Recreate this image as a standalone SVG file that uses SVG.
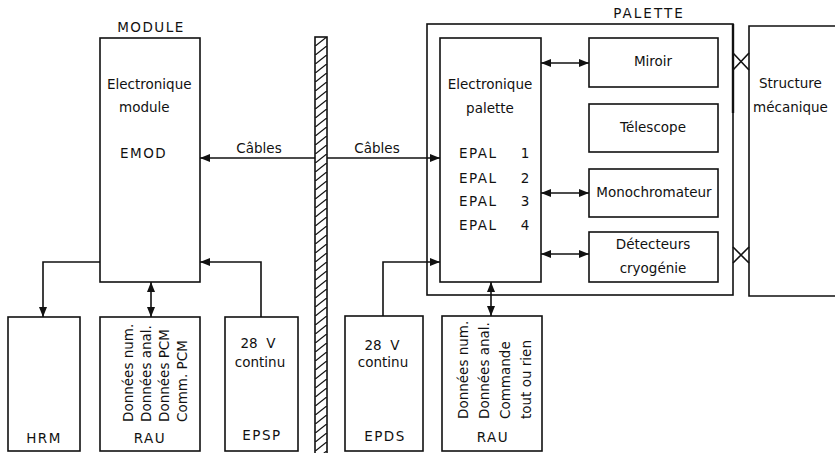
<svg xmlns="http://www.w3.org/2000/svg" width="835" height="453" viewBox="0 0 835 453">
<style>
.box{fill:#fff;stroke:#111;stroke-width:1.6}
.ln{fill:none;stroke:#111;stroke-width:1.6}
.t{font-family:"DejaVu Sans","Liberation Sans",sans-serif;font-size:13.5px;fill:#111}
.m{text-anchor:middle}
.cap{letter-spacing:1.5px}
</style>
<defs>
<marker id="ah" viewBox="0 0 10 8" refX="10" refY="4" markerWidth="10" markerHeight="8" markerUnits="userSpaceOnUse" orient="auto-start-reverse">
<path d="M0,0 L10,4 L0,8 Z" fill="#111"/>
</marker>
<pattern id="hatch" patternUnits="userSpaceOnUse" x="315" y="37" width="12" height="9">
<line x1="-1" y1="10" x2="13" y2="-1" stroke="#111" stroke-width="1.3"/>
</pattern>
</defs>
<rect width="835" height="453" fill="#fff"/>

<g id="wall">
<rect x="315" y="37" width="12" height="420" fill="url(#hatch)" stroke="#111" stroke-width="1.6"/>
</g>

<g id="module">
<text class="t m cap" x="151" y="32">MODULE</text>
<rect class="box" x="100" y="38" width="100" height="244"/>
<text class="t" x="107" y="89">Electronique</text>
<text class="t" x="119" y="112">module</text>
<text class="t cap" x="120" y="158">EMOD</text>
</g>

<g id="hrm">
<rect class="box" x="8" y="317" width="72" height="134"/>
<text class="t m cap" x="44" y="443">HRM</text>
</g>

<g id="rau-module">
<rect class="box" x="100" y="317" width="100" height="134"/>
<text class="t" transform="translate(133,422) rotate(-90)">Données num.</text>
<text class="t" transform="translate(151,422) rotate(-90)">Données anal.</text>
<text class="t" transform="translate(169,422) rotate(-90)">Données PCM</text>
<text class="t" transform="translate(187,422) rotate(-90)">Comm. PCM</text>
<text class="t m cap" x="150" y="443">RAU</text>
</g>

<g id="epsp">
<rect class="box" x="225" y="317" width="73" height="134"/>
<text class="t m" x="258" y="348" xml:space="preserve">28  V</text>
<text class="t m" x="260" y="367">continu</text>
<text class="t m cap" x="262" y="440">EPSP</text>
</g>

<g id="palette">
<text class="t m" x="649" y="18" style="letter-spacing:2px">PALETTE</text>
<rect class="box" x="427" y="24" width="306" height="271"/>
<line x1="733" y1="24" x2="733" y2="113" stroke="#111" stroke-width="2.4"/>
</g>

<g id="epal">
<rect class="box" x="440" y="38" width="101" height="244"/>
<text class="t m" x="490" y="89">Electronique</text>
<text class="t m" x="490" y="113">palette</text>
<text class="t cap" x="459" y="158">EPAL</text><text class="t m" x="525" y="158">1</text>
<text class="t cap" x="459" y="183">EPAL</text><text class="t m" x="525" y="183">2</text>
<text class="t cap" x="459" y="206">EPAL</text><text class="t m" x="525" y="206">3</text>
<text class="t cap" x="459" y="230">EPAL</text><text class="t m" x="525" y="230">4</text>
</g>

<g id="miroir">
<rect class="box" x="589" y="38" width="129" height="49"/>
<text class="t m" x="653" y="66">Miroir</text>
</g>
<g id="telescope">
<rect class="box" x="589" y="104" width="129" height="48"/>
<text class="t m" x="653" y="132">Télescope</text>
</g>
<g id="monochromateur">
<rect class="box" x="589" y="169" width="129" height="48"/>
<text class="t m" x="654" y="197">Monochromateur</text>
</g>
<g id="detecteurs">
<rect class="box" x="589" y="232" width="129" height="50"/>
<text class="t m" x="653" y="249">Détecteurs</text>
<text class="t m" x="653" y="273">cryogénie</text>
</g>

<g id="structure">
<path class="ln" d="M836,26 H749 V296 H836"/>
<text class="t" x="759" y="88">Structure</text>
<text class="t" x="753" y="112">mécanique</text>
</g>

<g id="epds">
<rect class="box" x="345" y="316" width="78" height="135"/>
<text class="t m" x="382" y="350" xml:space="preserve">28  V</text>
<text class="t m" x="383" y="367">continu</text>
<text class="t m cap" x="385" y="441">EPDS</text>
</g>

<g id="rau-palette">
<rect class="box" x="442" y="316" width="100" height="135"/>
<text class="t" transform="translate(468,419) rotate(-90)">Données num.</text>
<text class="t" transform="translate(489,419) rotate(-90)">Données anal.</text>
<text class="t" transform="translate(510,419) rotate(-90)">Commande</text>
<text class="t" transform="translate(531,419) rotate(-90)">tout ou rien</text>
<text class="t m cap" x="493" y="442">RAU</text>
</g>

<g id="connectors">
<path class="ln" d="M315,158 H200" marker-end="url(#ah)"/>
<text class="t m" x="259" y="153">Câbles</text>
<path class="ln" d="M327,158 H440" marker-end="url(#ah)"/>
<text class="t m" x="377" y="153">Câbles</text>
<path class="ln" d="M100,262 H43 V317" marker-end="url(#ah)"/>
<path class="ln" d="M151,282 V317" marker-start="url(#ah)" marker-end="url(#ah)"/>
<path class="ln" d="M261,317 V262 H200" marker-end="url(#ah)"/>
<path class="ln" d="M383,316 V262 H440" marker-end="url(#ah)"/>
<path class="ln" d="M491,282 V316" marker-start="url(#ah)" marker-end="url(#ah)"/>
<path class="ln" d="M541,63 H589" marker-start="url(#ah)" marker-end="url(#ah)"/>
<path class="ln" d="M541,193 H589" marker-start="url(#ah)" marker-end="url(#ah)"/>
<path class="ln" d="M541,254 H589" marker-start="url(#ah)" marker-end="url(#ah)"/>
<path class="ln" d="M733,53 L749,70 M733,70 L749,53" stroke-width="2"/>
<path class="ln" d="M733,247 L749,263 M733,263 L749,247" stroke-width="2"/>
</g>
</svg>
